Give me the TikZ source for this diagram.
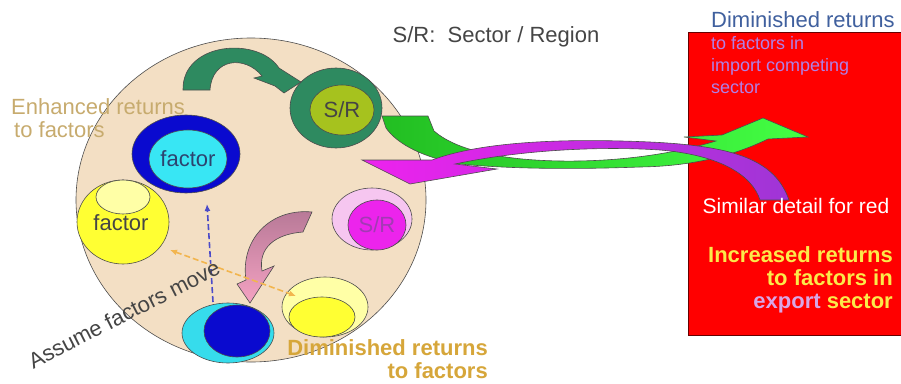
\documentclass[tikz,border=0pt]{standalone}
\usepackage{fontspec}
\setmainfont{Liberation Sans}
\usepackage{tikz}
\usetikzlibrary{positioning, arrows.meta, shapes.geometric, backgrounds}

\definecolor{landtan}{HTML}{F3DFC4}
\definecolor{srgreen}{HTML}{2E8A60}
\definecolor{srlime}{HTML}{A6C21E}
\definecolor{fblue}{HTML}{0A0ACF}
\definecolor{fcyan}{HTML}{38E6F4}
\definecolor{fyellow}{HTML}{FFFF33}
\definecolor{paleyellow}{HTML}{FFFFA6}
\definecolor{palepink}{HTML}{F6C6F0}
\definecolor{srmagenta}{HTML}{EC24EC}
\definecolor{srpurple}{HTML}{A23AB4}
\definecolor{bcyan}{HTML}{36DCEC}
\definecolor{keygray}{HTML}{454545}
\definecolor{enhtan}{HTML}{C7AB6E}
\definecolor{dimgold}{HTML}{D6A63A}
\definecolor{topblue}{HTML}{40609E}
\definecolor{lilac}{HTML}{B080E6}
\definecolor{incyellow}{HTML}{FBEA4A}
\definecolor{exportpink}{HTML}{D9A6E6}
\definecolor{grnL}{HTML}{22BE22}
\definecolor{grnR}{HTML}{44FF44}
\definecolor{magL}{HTML}{EE22EE}
\definecolor{magR}{HTML}{9F35D6}
\definecolor{pinkT}{HTML}{B67896}
\definecolor{pinkB}{HTML}{F4A2C2}
\definecolor{dashblue}{HTML}{4B4BC8}
\definecolor{dashorange}{HTML}{F2B54E}

\begin{document}
\begin{tikzpicture}[
                x=1pt, y=-1pt, >=Latex,
                blob/.style={draw=black!70, ellipse, inner sep=0pt, line width=0.6pt},
                fatarrow/.style={draw=black!70, line width=0.6pt},
                move/.style={dashed, line width=1.6pt, dash pattern=on 6pt off 3pt, arrows={-Latex[length=7pt, width=6pt]}},
                txt/.style={font=\fontsize{22}{23}\selectfont, inner sep=0pt},
                boldtxt/.style={font=\fontsize{22}{23}\selectfont\bfseries, inner sep=0pt}
            ]
            \useasboundingbox (0,0) rectangle (901,383);

            % Region and its sectors
            \node[blob, fill=landtan, minimum width=350, minimum height=324] (world) at (251,200) {};
            \node[blob, fill=srgreen, minimum width=92, minimum height=80] (srring) at (336,108) {};
            \node[blob, fill=srlime, minimum width=64, minimum height=50, txt, text=keygray] (srcore) at (342,110) {S/R};
            \node[blob, fill=fblue, minimum width=108, minimum height=78] (fring) at (186,154) {};
            \node[blob, fill=fcyan, minimum width=64, minimum height=58, txt, text=topblue!70!black] (fcore) at (188,159) {factor};
            \node[blob, fill=fyellow, minimum width=92, minimum height=84] (yring) at (123,222) {};
            \node[blob, fill=paleyellow, minimum width=54, minimum height=34] (ycore) at (123,197) {};
            \node[txt, text=keygray] (ytext) at (121,223) {factor};
            \node[blob, fill=palepink, minimum width=80, minimum height=62] (pring) at (372,219) {};
            \node[blob, fill=srmagenta, minimum width=58, minimum height=50, txt, text=srpurple] (pcore) at (377,225) {S/R};
            \node[blob, fill=bcyan, minimum width=92, minimum height=60] (cring) at (228,333) {};
            \node[blob, fill=fblue, minimum width=66, minimum height=52] (ccore) at (237,331) {};
            \node[blob, fill=paleyellow, minimum width=86, minimum height=60] (bring) at (325,307) {};
            \node[blob, fill=fyellow, minimum width=66, minimum height=40] (bcore) at (322,317) {};

            % Arrows inside the region
            \path[fatarrow, fill=srgreen] (183,90) .. controls (182,42) and (258,36) .. (279,68) -- (301,82) -- (284,93) -- (275,86) -- (254,78) -- (262,76) .. controls (245,55) and (212,58) .. (210,90) -- cycle;
            \path[fatarrow, top color=pinkT, bottom color=pinkB] (312,212) .. controls (270,208) and (240,240) .. (246,280) -- (237,284) -- (250,303) -- (274,266) -- (262,271) .. controls (258,248) and (275,234) .. (303,232) -- cycle;
            \coordinate (upfrom) at (213,302);
            \coordinate (upto) at (207,204);
            \coordinate (leftend) at (170,250);
            \coordinate (rightend) at (296,296);
            \draw[move, draw=dashblue] (upfrom) -- (upto);
            \draw[move, draw=dashorange, arrows={Latex[length=7pt, width=6pt]-Latex[length=7pt, width=6pt]}] (leftend) -- (rightend);

            % Other region
            \node[fill=red, minimum width=215, minimum height=303, inner sep=0pt, anchor=north west] (redbox) at (688,32) {};
            \draw[red!40!black, line width=1pt] (redbox.north east) -- (redbox.north west) -- (redbox.south west) -- (redbox.south east);

            % Trade arrows
            \path[fatarrow, left color=grnL, right color=grnR] (382,116) -- (428,116) -- (434,131)
                .. controls (456,150) and (500,160) .. (560,161)
                .. controls (625,162) and (680,152) .. (716,141)
                -- (684,137) -- (722,135) -- (763,118) -- (808,137) -- (768,139)
                .. controls (745,150) and (705,166) .. (640,167)
                .. controls (560,170) and (500,168) .. (460,164)
                .. controls (425,158) and (398,145) .. (386,128) -- cycle;
            \path[fatarrow, left color=magL, right color=magR] (760,200) -- (789,200)
                .. controls (775,160) and (735,146) .. (650,142)
                .. controls (560,138) and (480,142) .. (432,160)
                -- (362,160) -- (410,184) -- (497,169) -- (455,164)
                .. controls (520,150) and (600,146) .. (660,150)
                .. controls (720,155) and (752,175) .. (760,200) -- cycle;

            % Texts
            \node[txt, text=keygray] (key) at (496,37) {S/R:\ \ Sector / Region};
            \node[txt, text=enhtan, align=left, anchor=west] (enhanced) at (11,118) {Enhanced returns\\\hspace*{3pt}to factors};
            \node[boldtxt, text=dimgold, align=right, anchor=east] (diminished) at (488,359) {Diminished returns\\to factors};
            \node[txt, text=keygray, rotate=27] (assume) at (124,314) {Assume factors move};
            \node[txt, text=topblue, anchor=west] (dimtop) at (711,20) {Diminished returns};
            \node[txt, font=\fontsize{18}{22}\selectfont, text=lilac, align=left, anchor=north west] (importtxt) at (711,36) {to factors in\\import competing\\sector};
            \node[txt, text=white, font=\fontsize{21}{23}\selectfont] (similar) at (796,206) {Similar detail for red};
            \node[boldtxt, text=incyellow, align=right, anchor=east] (increased) at (893,280) {Increased returns\\to factors in\\{\color{exportpink}export} sector};
            \end{tikzpicture}
\end{document}
